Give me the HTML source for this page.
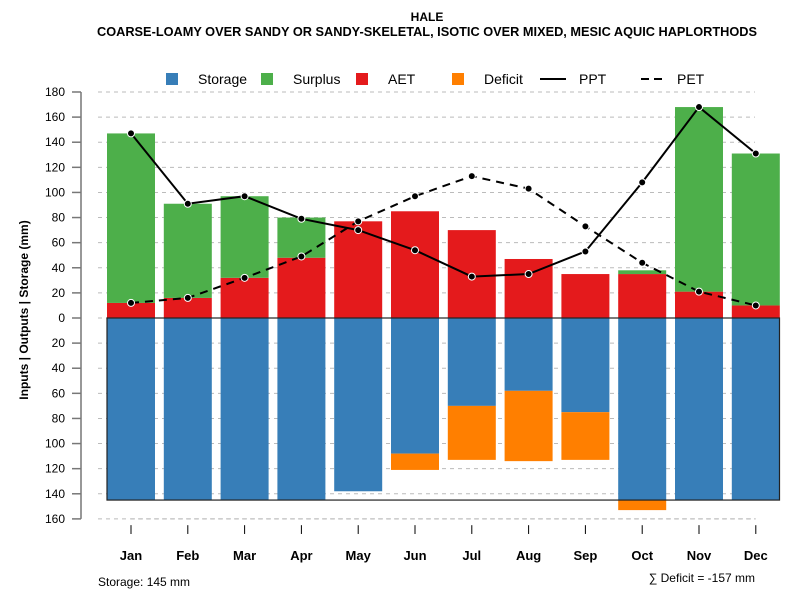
<!DOCTYPE html>
<html><head><meta charset="utf-8"><style>
body{margin:0;background:#fff}
svg{font-family:"Liberation Sans",sans-serif}
</style></head><body>
<svg id="chart" width="800" height="600" xmlns="http://www.w3.org/2000/svg">
<text x="427" y="21" text-anchor="middle" font-size="12" font-weight="bold">HALE</text>
<text x="97" y="36" textLength="660" lengthAdjust="spacingAndGlyphs" font-size="12.5" font-weight="bold">COARSE-LOAMY OVER SANDY OR SANDY-SKELETAL, ISOTIC OVER MIXED, MESIC AQUIC HAPLORTHODS</text>
<g id="legend" font-size="14">
<g><rect x="166" y="73" width="12" height="12" fill="#377EB8"/><text x="198" y="84">Storage</text></g>
<g><rect x="261" y="73" width="12" height="12" fill="#4DAF4A"/><text x="293" y="84">Surplus</text></g>
<g><rect x="356" y="73" width="12" height="12" fill="#E41A1C"/><text x="388" y="84">AET</text></g>
<g><rect x="452" y="73" width="12" height="12" fill="#FF7F00"/><text x="484" y="84">Deficit</text></g>
<g><line x1="540" y1="79" x2="566" y2="79" stroke="#000" stroke-width="2"/><text x="579" y="84">PPT</text></g>
<g><line x1="641" y1="79" x2="667" y2="79" stroke="#000" stroke-width="2" stroke-dasharray="8,5"/><text x="677" y="84">PET</text></g>
</g>
<g id="grid"></g><g id="bars"></g><g id="lines"></g><g id="axes"></g>
<text transform="translate(28,310) rotate(-90)" text-anchor="middle" font-size="12" font-weight="bold">Inputs | Outputs | Storage    (mm)</text>
<text x="98" y="586" font-size="12">Storage: 145 mm</text>
<text x="755" y="582" text-anchor="end" font-size="12">∑ Deficit = -157 mm</text>
</svg>
<script>
const months=["Jan","Feb","Mar","Apr","May","Jun","Jul","Aug","Sep","Oct","Nov","Dec"];
const ppt=[147,91,97,79,70,54,33,35,53,108,168,131];
const pet=[12,16,32,49,77,97,113,103,73,44,21,10];
const aet=[12,16,32,48,77,85,70,47,35,35,21,10];
const surplus=[135,75,65,32,0,0,0,0,0,3,147,121];
const storage=[145,145,145,145,138,108,70,58,75,145,145,145];
const deficit=[0,0,0,0,0,13,43,56,38,8,0,0];
const yTicks=[180,160,140,120,100,80,60,40,20,0,-20,-40,-60,-80,-100,-120,-140,-160];
const storageCap=145;
const NS="http://www.w3.org/2000/svg";
const y=v=>318-v*1.2556;
const x=i=>131+i*56.8;
const bw=48;
function mk(p,t,a){const e=document.createElementNS(NS,t);for(const k in a)e.setAttribute(k,a[k]);p.appendChild(e);return e;}
const grid=document.getElementById('grid'),bars=document.getElementById('bars'),lines=document.getElementById('lines'),axes=document.getElementById('axes');
yTicks.forEach(t=>{
 const g=mk(grid,'line',{x1:98,x2:755,y1:y(t),y2:y(t),stroke:'#bbb','stroke-dasharray':'4,4'});
 
 
 mk(axes,'line',{x1:72,x2:81,y1:y(t),y2:y(t),stroke:'#777','stroke-width':1.5});
 const lb=mk(axes,'text',{x:65,y:y(t)+4,'text-anchor':'end','font-size':12});
 lb.textContent=Math.abs(t);
 
 
});
mk(axes,'line',{x1:81,x2:81,y1:y(180),y2:y(-160),stroke:'#777','stroke-width':1.5});
mk(axes,'line',{x1:x(0),x2:x(11),y1:y(-160),y2:y(-160),stroke:'#bbb','stroke-dasharray':'4,4'});
months.forEach((m,i)=>{
 const cx=x(i);
 const s=mk(bars,'rect',{x:cx-bw/2,y:y(0),width:bw,height:y(-storage[i])-y(0),fill:'#377EB8'});
 
 
 if(deficit[i]>0){const d=mk(bars,'rect',{x:cx-bw/2,y:y(-storage[i]),width:bw,height:y(-storage[i]-deficit[i])-y(-storage[i]),fill:'#FF7F00'});
 
 }
 const a=mk(bars,'rect',{x:cx-bw/2,y:y(aet[i]),width:bw,height:y(0)-y(aet[i]),fill:'#E41A1C'});
 
 
 if(surplus[i]>0){const su=mk(bars,'rect',{x:cx-bw/2,y:y(aet[i]+surplus[i]),width:bw,height:y(aet[i])-y(aet[i]+surplus[i]),fill:'#4DAF4A'});
 
 }
 mk(axes,'line',{x1:cx,x2:cx,y1:y(-165),y2:y(-172),stroke:'#000'});
 const t=mk(axes,'text',{x:cx,y:560,'text-anchor':'middle','font-size':13,'font-weight':'bold'});
 t.textContent=m;
 
 
});
mk(bars,'rect',{x:107,y:y(0),width:672.5,height:y(-storageCap)-y(0),fill:'none',stroke:'#222','stroke-width':1.2});
function series(arr,dash,name){
 const p=mk(lines,'polyline',{points:arr.map((v,i)=>x(i)+','+y(v)).join(' '),fill:'none',stroke:'#000','stroke-width':2,'stroke-dasharray':dash});
 
 
 arr.forEach((v,i)=>{const c=mk(lines,'circle',{cx:x(i),cy:y(v),r:3.5,fill:'#000',stroke:'#fff','stroke-width':1});
 
 });
}
series(pet,'8,6','pet');
series(ppt,'none','ppt');
</script>
</body></html>
